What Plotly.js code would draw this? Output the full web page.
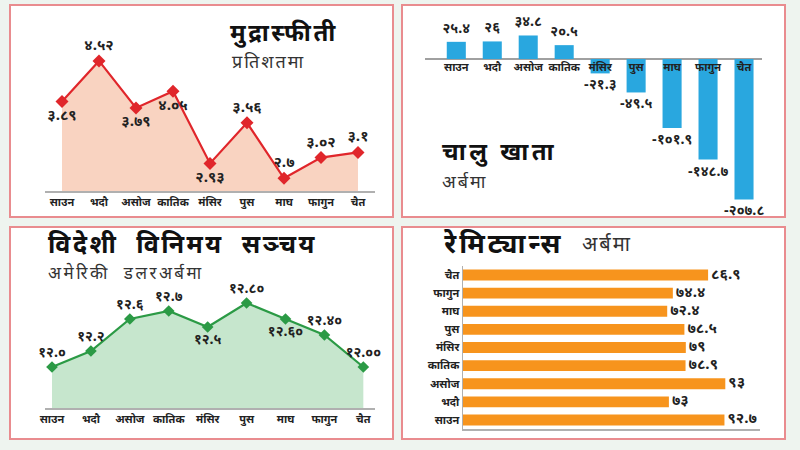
<!DOCTYPE html>
<html>
<head>
<meta charset="utf-8">
<script src="https://cdn.plot.ly/plotly-3.0.1.min.js"></script>
<style>
html,body{margin:0;padding:0;background:#eef4ef;}
#chart{width:800px;height:450px;}
</style>
</head>
<body>
<div id="chart"></div>
<script>
// ---- data ----
const months = ['साउन','भदौ','असोज','कातिक','मंसिर','पुस','माघ','फागुन','चैत'];

const inflation = [3.89, 4.52, 3.79, 4.05, 2.93, 3.56, 2.7, 3.02, 3.1];
const inflationLabels = ['३.८९','४.५२','३.७९','४.०५','२.९३','३.५६','२.७','३.०२','३.१'];
const inflationPos = ['bottom center','top center','bottom center','bottom center','bottom center','top center','top center','top center','top center'];

const currentAccount = [25.4, 26, 34.8, 20.5, -21.3, -49.5, -101.9, -148.7, -207.8];
const currentAccountLabels = ['२५.४','२६','३४.८','२०.५','-२१.३','-४९.५','-१०१.९','-१४८.७','-२०७.८'];

const reserves = [12.0, 12.2, 12.6, 12.7, 12.5, 12.8, 12.6, 12.4, 12.0];
const reserveLabels = ['१२.०','१२.२','१२.६','१२.७','१२.५','१२.८०','१२.६०','१२.४०','१२.००'];
const reservePos = ['top center','top center','top center','top center','bottom center','top center','bottom center','top center','top center'];

const remittance = [92.7, 73, 93, 78.9, 79, 78.5, 72.4, 74.4, 86.9];
const remittanceLabels = ['९२.७','७३','९३','७८.९','७९','७८.५','७२.४','७४.४','८६.९'];

// ---- helpers ----
const W = 800, H = 450;
const px = x => x / W;
const py = y => 1 - y / H;
const FONT = '"Noto Sans Devanagari", "Lohit Devanagari", "Noto Sans", sans-serif';

const panels = [
  [10, 5, 393, 217],
  [402, 5, 785, 217],
  [10, 227, 393, 439],
  [402, 227, 785, 439]
];
const shapes = panels.map(p => ({
  type: 'rect', xref: 'paper', yref: 'paper', layer: 'below',
  x0: px(p[0]), x1: px(p[2]), y0: py(p[3]), y1: py(p[1]),
  fillcolor: '#ffffff', line: {color: '#e98c8f', width: 2}
}));

// panel 2 axis geometry
const y2range = [-223.4, 57.7];
const y2dom = [py(210), py(20)];
const zeroPaper = y2dom[0] + (0 - y2range[0]) / (y2range[1] - y2range[0]) * (y2dom[1] - y2dom[0]);

const traces = [
  {
    type: 'scatter', mode: 'lines+markers+text', x: months, y: inflation,
    xaxis: 'x', yaxis: 'y', fill: 'tozeroy', fillcolor: '#f9d3c1',
    line: {color: '#e0262b', width: 2.2},
    marker: {symbol: 'diamond', size: 10, color: '#e0262b'},
    text: inflationLabels, textposition: inflationPos,
    textfont: {family: FONT, size: 15, color: '#222', weight: 'bold'},
    cliponaxis: false, hoverinfo: 'skip'
  },
  {
    type: 'bar', x: months, y: currentAccount, xaxis: 'x2', yaxis: 'y2',
    marker: {color: '#29a7df'}, width: 0.53,
    text: currentAccountLabels, textposition: 'outside', constraintext: 'none',
    textfont: {family: FONT, size: 14, color: '#222', weight: 'bold'},
    cliponaxis: false, hoverinfo: 'skip'
  },
  {
    type: 'scatter', mode: 'lines+markers+text', x: months, y: reserves,
    xaxis: 'x3', yaxis: 'y3', fill: 'tozeroy', fillcolor: '#c6e6cd',
    line: {color: '#2b9a45', width: 2.2},
    marker: {symbol: 'diamond', size: 9, color: '#2b9a45'},
    text: reserveLabels, textposition: reservePos,
    textfont: {family: FONT, size: 14, color: '#222', weight: 'bold'},
    cliponaxis: false, hoverinfo: 'skip'
  },
  {
    type: 'bar', orientation: 'h', y: months, x: remittance, xaxis: 'x4', yaxis: 'y4',
    marker: {color: '#f7941d'}, width: 0.6,
    text: remittanceLabels, textposition: 'outside', constraintext: 'none',
    textfont: {family: FONT, size: 15, color: '#222', weight: 'bold'},
    cliponaxis: false, hoverinfo: 'skip'
  }
];

const tickFont = {family: FONT, size: 11, color: '#222', weight: 'bold'};
const hidden = {showgrid: false, zeroline: false, showticklabels: false, showline: false, ticks: ''};

const ann = (x, y, text, size, bold, ls) => ({
  xref: 'paper', yref: 'paper', x: px(x), y: py(y), xanchor: 'left', yanchor: 'middle',
  align: 'left', showarrow: false,
  text: '<span style="letter-spacing:' + ls + 'px">' + text + '</span>',
  font: {family: FONT, size: size, color: bold ? '#111' : '#333', weight: bold ? 'bold' : 'normal'}
});

const layout = {
  width: W, height: H,
  margin: {l: 0, r: 0, t: 0, b: 0},
  paper_bgcolor: '#eef4ef', plot_bgcolor: 'rgba(0,0,0,0)',
  showlegend: false,
  font: {family: FONT},
  shapes: shapes,
  xaxis: {domain: [px(45), px(375)], anchor: 'y', type: 'category', range: [-0.46, 8.46],
          showgrid: false, zeroline: false, showline: true, linecolor: '#b0b0b0', linewidth: 1.5,
          ticks: '', tickfont: tickFont},
  yaxis: Object.assign({domain: [py(191), py(30)], anchor: 'x', range: [2.502, 5.0]}, hidden),
  xaxis2: {domain: [px(425), px(762)], anchor: 'free', position: zeroPaper, type: 'category',
           range: [-0.87, 8.5], showgrid: false, zeroline: false, showline: false,
           ticks: '', tickfont: tickFont},
  yaxis2: {domain: y2dom, anchor: 'x2', range: y2range, showgrid: false, showticklabels: false,
           zeroline: true, zerolinecolor: '#a0a0a0', zerolinewidth: 1.5, showline: false, ticks: ''},
  xaxis3: {domain: [px(45), px(375)], anchor: 'y3', type: 'category', range: [-0.18, 8.3],
           showgrid: false, zeroline: false, showline: true, linecolor: '#b0b0b0', linewidth: 1.5,
           ticks: '', tickfont: tickFont},
  yaxis3: Object.assign({domain: [py(408), py(240)], anchor: 'x3', range: [11.4875, 13.5875]}, hidden),
  xaxis4: {domain: [px(463), px(760)], anchor: 'y4', range: [0, 105.3], showgrid: false,
           zeroline: false, showticklabels: false, showline: true, linecolor: '#b0b0b0', linewidth: 1.5, ticks: ''},
  yaxis4: {domain: [py(429), py(266)], anchor: 'x4', type: 'category', range: [-0.5, 8.5],
           showgrid: false, zeroline: false, showline: true, linecolor: '#b0b0b0', linewidth: 1.5,
           ticks: '', tickfont: tickFont},
  annotations: [
    ann(228, 35, 'मुद्रास्फीती', 24, true, 2.5),
    ann(230, 63.5, 'प्रतिशतमा', 18, false, 2),
    ann(440, 153.5, 'चालु खाता', 24, true, 3.5),
    ann(440, 183, 'अर्बमा', 18, false, 2),
    ann(46, 246.5, 'विदेशी  विनिमय  सञ्चय', 25, true, 2.5),
    ann(46, 273.5, 'अमेरिकी  डलरअर्बमा', 17, false, 2.5),
    ann(441, 246, 'रेमिट्यान्स', 27, true, 3),
    ann(580, 246, 'अर्बमा', 20, false, 2)
  ]
};

Plotly.newPlot('chart', traces, layout, {staticPlot: true, displayModeBar: false});
</script>
</body>
</html>
